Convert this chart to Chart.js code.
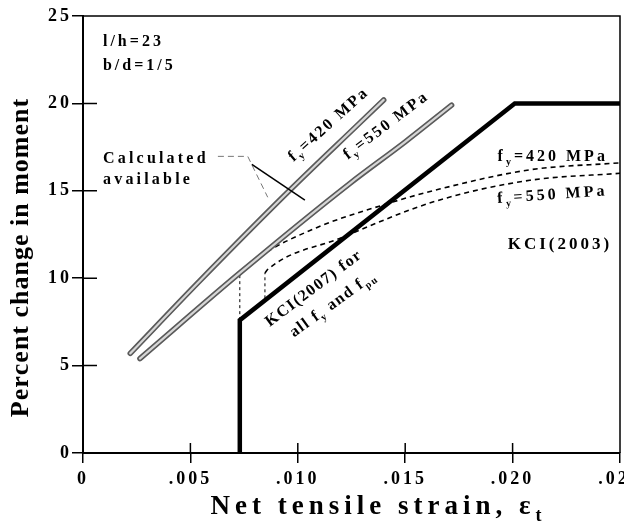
<!DOCTYPE html>
<html>
<head>
<meta charset="utf-8">
<script src="https://cdn.jsdelivr.net/npm/chart.js@4.4.1/dist/chart.umd.min.js"></script>
<style>
  html, body { margin: 0; padding: 0; background: #fff; }
  canvas { display: block; }
</style>
</head>
<body>
<canvas id="chart" width="624" height="524"></canvas>
<script>
// axis ticks
const xTicks = [0, 0.005, 0.010, 0.015, 0.020, 0.025];
const yTicks = [0, 5, 10, 15, 20, 25];

// KCI(2007) limit for all fy and fpu (thick line)
const kci2007X = [0.0073, 0.0073, 0.0201, 0.0250];
const kci2007Y = [0, 7.6, 20, 20];

// calculated available redistribution
const calc420X = [0.0022, 0.0054, 0.0096, 0.0129, 0.0140];
const calc420Y = [5.7, 9.8, 15.0, 18.9, 20.2];
const calc550X = [0.00265, 0.0073, 0.0124, 0.0150, 0.01716];
const calc550Y = [5.4, 10.3, 15.4, 17.8, 19.9];

// KCI(2003) curves, the short drop lines are kept apart
const kci2003_420X = [0.0073, 0.0082, 0.0109, 0.0140, 0.0166, 0.0208, 0.0250];
const kci2003_420Y = [10.2, 11.2, 12.9, 14.2, 15.1, 16.2, 16.6];
const kci2003_550X = [0.00847, 0.0086, 0.0120, 0.0164, 0.0208, 0.0250];
const kci2003_550Y = [10.3, 10.5, 12.3, 14.4, 15.6, 16.0];
const drop420X = [0.0073, 0.0073];
const drop420Y = [7.6, 10.2];
const drop550X = [0.00847, 0.00847];
const drop550Y = [8.85, 10.3];

// leader lines of the "Calculated available" note
const leaderDashX = [0.00628, 0.00767, 0.0086];
const leaderDashY = [16.97, 16.97, 14.63];
const leaderSolidX = [0.00786, 0.01033];
const leaderSolidY = [16.51, 14.46];

const SERIF = "'Liberation Serif', 'Times New Roman', serif";

function pts(xs, ys) {
  return xs.map((x, i) => ({ x: x, y: ys[i] }));
}

function line(xs, ys, opts) {
  return Object.assign({
    data: pts(xs, ys),
    borderColor: '#000',
    borderWidth: 1.5,
    pointRadius: 0,
    fill: false,
    tension: 0
  }, opts);
}

// smooth curves
function curve(xs, ys, opts) {
  return line(xs, ys, Object.assign({ cubicInterpolationMode: 'monotone' }, opts));
}

// text notes: [parts, x, y, angle(deg), align, size, spacing]
const notes = [
  [[['l/h=23']], 0.00093, 23.3, 0, 'left', 16, 3],
  [[['b/d=1/5']], 0.00093, 21.9, 0, 'left', 16, 3],
  [[['Calculated']], 0.00093, 16.6, 0, 'left', 16, 3.2],
  [[['available']], 0.00093, 15.4, 0, 'left', 16, 3.2],
  [[['f'], ['y', 'sub'], ['=420 MPa']], 0.01153, 18.57, -42, 'center', 16, 2.2],
  [[['f'], ['y', 'sub'], ['=550 MPa']], 0.01419, 18.5, -37, 'center', 16, 2.2],
  [[['f'], ['y', 'sub'], ['=420 MPa']], 0.0193, 16.7, 0, 'left', 16, 3],
  [[['f'], ['y', 'sub'], ['=550 MPa']], 0.0193, 14.3, -4, 'left', 16, 3],
  [[['KCI(2003)']], 0.01977, 11.66, 0, 'left', 17, 3],
  [[['KCI(2007) for']], 0.01084, 9.2, -37, 'center', 16, 1.5],
  [[['all f'], ['y', 'sub'], [' and f'], ['pu', 'sub']], 0.01172, 8.3, -36, 'center', 16, 1.5]
];

function partFont(sub, size) {
  return 'bold ' + (sub ? Math.round(size * 0.65) : size) + 'px ' + SERIF;
}

function drawRich(ctx, parts, x, y, angle, align, size, spacing) {
  let w = 0;
  parts.forEach(p => {
    ctx.font = partFont(p[1], size);
    for (const ch of p[0]) w += ctx.measureText(ch).width + spacing;
  });
  w -= spacing;
  ctx.save();
  ctx.translate(x, y);
  ctx.rotate(angle * Math.PI / 180);
  ctx.fillStyle = '#000';
  ctx.textBaseline = 'alphabetic';
  ctx.textAlign = 'left';
  let cx = align === 'center' ? -w / 2 : 0;
  parts.forEach(p => {
    ctx.font = partFont(p[1], size);
    const dy = p[1] ? size * 0.25 : 0;
    for (const ch of p[0]) {
      ctx.fillText(ch, cx, dy);
      cx += ctx.measureText(ch).width + spacing;
    }
  });
  ctx.restore();
}

const decorPlugin = {
  id: 'decor',
  beforeDraw(chart) {
    chart.ctx.letterSpacing = '3px';
  },
  beforeDatasetsDraw(chart) {
    const ctx = chart.ctx;
    ctx.letterSpacing = '0px';
    const a = chart.chartArea;
    const xs = chart.scales.x, ys = chart.scales.y;
    ctx.save();
    ctx.strokeStyle = '#000';
    ctx.lineWidth = 1.5;
    ctx.beginPath();
    // top and right frame
    ctx.moveTo(a.left, a.top);
    ctx.lineTo(a.right, a.top);
    ctx.lineTo(a.right, a.bottom);
    // inner halves of ticks
    xTicks.slice(1, -1).forEach(v => {
      const px = xs.getPixelForValue(v);
      ctx.moveTo(px, a.bottom);
      ctx.lineTo(px, a.bottom - 10);
    });
    yTicks.slice(1, -1).forEach(v => {
      const py = ys.getPixelForValue(v);
      ctx.moveTo(a.left, py);
      ctx.lineTo(a.left + 14, py);
    });
    ctx.stroke();
    ctx.restore();
  },
  afterDatasetsDraw(chart) {
    const ctx = chart.ctx;
    const xs = chart.scales.x, ys = chart.scales.y;
    notes.forEach(n => {
      drawRich(ctx, n[0], xs.getPixelForValue(n[1]), ys.getPixelForValue(n[2]), n[3], n[4], n[5], n[6]);
    });
    // axis titles
    drawRich(ctx, [['Net tensile strain, \u03b5'], ['t', 'sub']], 376, 514, 0, 'center', 27, 5);
    drawRich(ctx, [['Percent change in moment']], 28, 258, -90, 'center', 26, 1);
  }
};

new Chart(document.getElementById('chart'), {
  type: 'line',
  data: {
    datasets: [
      line(kci2007X, kci2007Y, { borderWidth: 4.5, borderJoinStyle: 'miter', order: 0 }),
      line(leaderSolidX, leaderSolidY, { borderWidth: 1.5, order: 1 }),
      line(leaderDashX, leaderDashY, { borderWidth: 1, borderColor: '#777', borderDash: [6, 4], order: 2 }),
      curve(calc420X, calc420Y, { borderWidth: 2.2, borderColor: '#d6d6d6', borderCapStyle: 'round', order: 3 }),
      curve(calc420X, calc420Y, { borderWidth: 5.5, borderColor: '#5a5a5a', borderCapStyle: 'round', order: 4 }),
      curve(calc550X, calc550Y, { borderWidth: 2.2, borderColor: '#d6d6d6', borderCapStyle: 'round', order: 5 }),
      curve(calc550X, calc550Y, { borderWidth: 5.5, borderColor: '#5a5a5a', borderCapStyle: 'round', order: 6 }),
      curve(kci2003_420X, kci2003_420Y, { borderWidth: 1.6, borderDash: [5, 4], order: 7 }),
      curve(kci2003_550X, kci2003_550Y, { borderWidth: 1.6, borderDash: [5, 4], order: 8 }),
      line(drop420X, drop420Y, { borderWidth: 1, borderDash: [3, 3], order: 9 }),
      line(drop550X, drop550Y, { borderWidth: 1, borderDash: [3, 3], order: 10 })
    ]
  },
  options: {
    responsive: false,
    animation: false,
    devicePixelRatio: 1,
    layout: { padding: { top: 16, right: 4, left: 0, bottom: 0 } },
    plugins: {
      legend: { display: false },
      tooltip: { enabled: false }
    },
    scales: {
      x: {
        type: 'linear',
        min: 0,
        max: 0.025,
        border: { display: true, color: '#000', width: 2 },
        grid: { display: true, drawOnChartArea: false, drawTicks: true, tickLength: 10, color: '#000', lineWidth: 1.5 },
        ticks: {
          stepSize: 0.005,
          padding: 6,
          color: '#000',
          maxRotation: 0,
          font: { family: SERIF, size: 18, weight: 'bold' },
          callback: v => v === 0 ? '0' : '.' + v.toFixed(3).slice(2)
        },
        afterFit(s) { s.height = 71; s.paddingLeft = 0; s.paddingRight = 0; }
      },
      y: {
        type: 'linear',
        min: 0,
        max: 25,
        border: { display: true, color: '#000', width: 2 },
        grid: { display: true, drawOnChartArea: false, drawTicks: true, tickLength: 11, color: '#000', lineWidth: 1.5 },
        ticks: {
          stepSize: 5,
          padding: 0,
          color: '#000',
          font: { family: SERIF, size: 18, weight: 'bold' }
        },
        afterFit(s) { s.width = 83; s.paddingTop = 0; s.paddingBottom = 0; }
      }
    }
  },
  plugins: [decorPlugin]
});
</script>
</body>
</html>
